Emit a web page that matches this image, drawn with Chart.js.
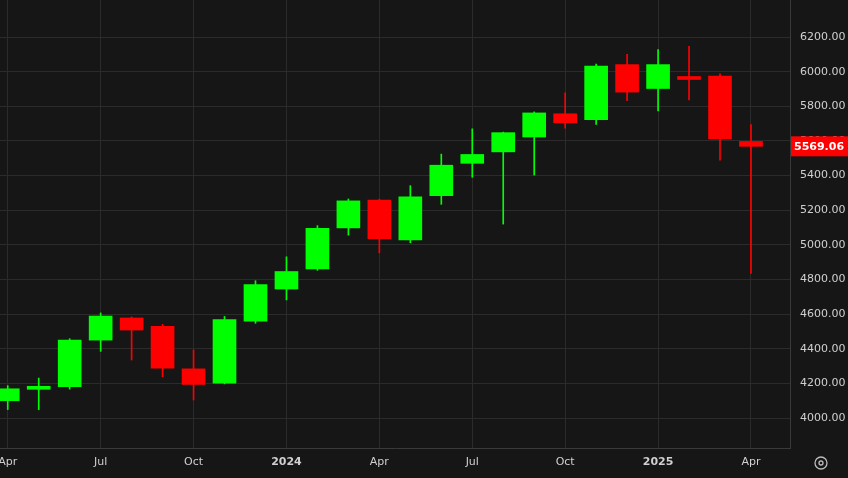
<!DOCTYPE html>
<html>
<head>
<meta charset="utf-8">
<script src="https://cdn.jsdelivr.net/npm/chart.js@4"></script>
<style>
  html, body { margin: 0; padding: 0; background: #161616; }
  #wrap { width: 848px; height: 478px; }
</style>
</head>
<body>
<div id="wrap"><canvas id="c"></canvas></div>
<script>
// Monthly candles, Apr 2023 .. Apr 2025
var months = ["Apr","May","Jun","Jul","Aug","Sep","Oct","Nov","Dec",
              "Jan","Feb","Mar","Apr","May","Jun","Jul","Aug","Sep","Oct","Nov","Dec",
              "Jan","Feb","Mar","Apr"];
var opens  = [4100,4166,4181,4450,4578,4530,4284,4201,4559,4745,4861,5098,5258,5029,5284,5471,5537,5623,5757,5723,6041,5903,5969,5975,5597];
var highs  = [4187,4231,4458,4607,4584,4541,4393,4587,4793,4931,5111,5265,5264,5342,5524,5670,5651,5768,5878,6044,6100,6128,6147,5987,5695];
var lows   = [4049,4048,4167,4385,4335,4238,4104,4197,4547,4682,4853,5056,4954,5012,5234,5390,5120,5403,5674,5696,5832,5773,5837,5489,4835];
var closes = [4169,4180,4450,4589,4508,4288,4194,4568,4770,4846,5096,5254,5036,5278,5460,5522,5648,5762,5705,6032,5882,6041,5955,5612,5569.06];
var tickLabels = {0:"Apr",3:"Jul",6:"Oct",9:"2024",12:"Apr",15:"Jul",18:"Oct",21:"2025",24:"Apr"};
var lastPrice = 5569.06;

var up = "#00ff00", down = "#ff0000";
var colors = opens.map(function (o, i) { return closes[i] >= o ? up : down; });
var grid = "#2b2b2b", txt = "#d0d0d0";

var priceTag = {
  id: "priceTag",
  afterDraw: function (chart) {
    var ctx = chart.ctx, y = chart.scales.y.getPixelForValue(lastPrice);
    var x0 = chart.chartArea.right + 1;
    ctx.save();
    ctx.fillStyle = "#ff0000";
    ctx.fillRect(x0, y - 10, 848 - x0, 20);
    ctx.fillStyle = "#ffffff";
    ctx.font = "bold 11px 'DejaVu Sans', sans-serif";
    ctx.textBaseline = "middle";
    ctx.fillText(lastPrice.toFixed(2), x0 + 3, y + 1);
    // settings icon
    ctx.strokeStyle = "#bbbbbb";
    ctx.lineWidth = 1.3;
    ctx.beginPath(); ctx.arc(821, 463, 6, 0, Math.PI * 2); ctx.stroke();
    ctx.beginPath(); ctx.arc(821, 463, 2, 0, Math.PI * 2); ctx.stroke();
    ctx.restore();
  }
};

new Chart(document.getElementById("c"), {
  type: "bar",
  data: {
    datasets: [{
      data: opens.map(function (o, i) { return { x: i, y: [lows[i], highs[i]] }; }),
      backgroundColor: colors,
      barThickness: 1,
      grouped: false
    }, {
      data: opens.map(function (o, i) { return { x: i, y: [o, closes[i]] }; }),
      backgroundColor: colors,
      barThickness: 23,
      minBarLength: 3,
      grouped: false
    }]
  },
  options: {
    responsive: true,
    maintainAspectRatio: false,
    animation: false,
    layout: { padding: 0 },
    plugins: { legend: { display: false }, tooltip: { enabled: false } },
    scales: {
      x: {
        type: "linear", min: -0.25, max: 25.26, offset: false,
        grid: { color: grid, drawTicks: false, offset: false },
        border: { color: "#3a3a3a" },
        afterBuildTicks: function (s) {
          s.ticks = Object.keys(tickLabels).map(function (k) { return { value: +k }; });
        },
        ticks: {
          color: txt, padding: 8, maxRotation: 0, autoSkip: false,
          font: function (c) {
            var l = tickLabels[c.tick && c.tick.value];
            return { family: "'DejaVu Sans', sans-serif", size: 11, weight: (l && l.length === 4) ? "bold" : "normal" };
          },
          callback: function (v) { return tickLabels[v] || ""; }
        },
        afterFit: function (s) { s.height = 30; s.paddingLeft = 0; s.paddingRight = 0; }
      },
      y: {
        position: "right", min: 3827, max: 6414,
        grid: { color: grid, drawTicks: false },
        border: { color: "#3a3a3a" },
        afterBuildTicks: function (s) {
          var t = [];
          for (var v = 4000; v <= 6200; v += 200) t.push({ value: v });
          s.ticks = t;
        },
        ticks: {
          color: txt, padding: 10,
          font: { family: "'DejaVu Sans', sans-serif", size: 11 },
          callback: function (v) { return v.toFixed(2); }
        },
        afterFit: function (s) { s.width = 58; s.paddingTop = 0; s.paddingBottom = 0; }
      }
    }
  },
  plugins: [priceTag]
});
</script>
</body>
</html>
